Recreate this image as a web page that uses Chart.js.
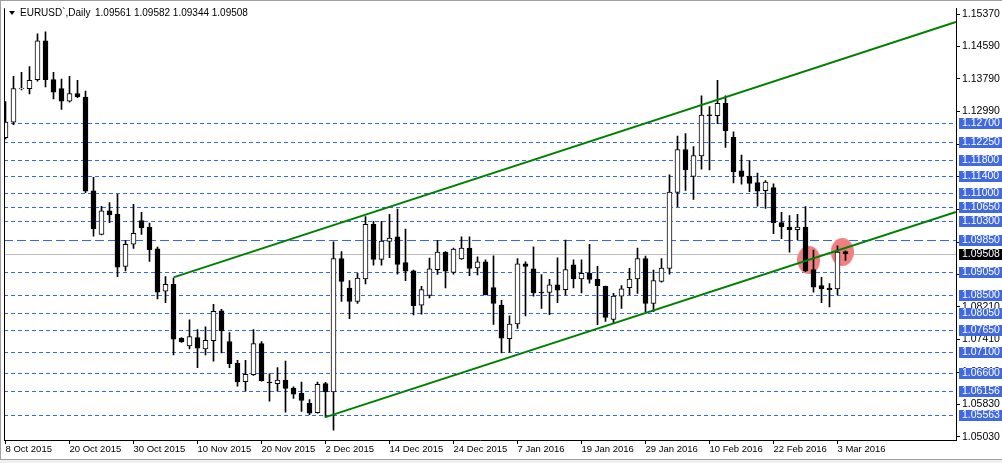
<!DOCTYPE html>
<html>
<head>
<meta charset="utf-8">
<script src="https://cdn.jsdelivr.net/npm/chart.js@4"></script>
<style>
  html, body { margin: 0; padding: 0; background: #fff; }
  #wrap { width: 1002px; height: 463px; position: relative; }
  canvas { display: block; }
</style>
</head>
<body>
<div id="wrap"><canvas id="chart" width="1002" height="463"></canvas></div>
<script>
const symbolTitle = "EURUSD`,Daily";
const lastQuote = ["1.09561", "1.09582", "1.09344", "1.09508"];

// daily bars, 8 Oct 2015 .. 4 Mar 2016
const opens = [
  1.1235, 1.1273, 1.1355, 1.1355, 1.1377, 1.1472, 1.1377, 1.1355, 1.1324, 1.1343,
  1.1334, 1.1105, 1.0998, 1.1056, 1.1047, 1.0920, 1.0974, 1.1032, 1.1016, 1.0963,
  1.0859, 1.0876, 1.0744, 1.0725, 1.0746, 1.0718, 1.0738, 1.0811, 1.0736, 1.0683,
  1.0638, 1.0655, 1.0731, 1.0637, 1.0633, 1.0642, 1.0622, 1.0609, 1.0585, 1.0562,
  1.0633, 1.0613, 1.0939, 1.0867, 1.0834, 1.0889, 1.1023, 1.0937, 1.0981, 1.0992,
  1.0929, 1.0909, 1.0825, 1.0849, 1.0912, 1.0955, 1.0905, 1.0938, 1.0965, 1.0916,
  1.0931, 1.0868, 1.0825, 1.0743, 1.0779, 1.0926, 1.0914, 1.0857, 1.0856, 1.0875,
  1.0863, 1.0924, 1.0889, 1.0903, 1.0888, 1.0871, 1.0790, 1.0847, 1.0868, 1.0889,
  1.0939, 1.0829, 1.0883, 1.0915, 1.1101, 1.1206, 1.1140, 1.1190, 1.1291, 1.1289,
  1.1319, 1.1236, 1.1154, 1.1141, 1.1125, 1.1105, 1.1113, 1.1027, 1.1016, 1.1010,
  1.1016, 1.0912, 1.0873, 1.0867, 1.0865, 1.09561
];
const highs = [
  1.1323, 1.1385, 1.1395, 1.1409, 1.1489, 1.1494, 1.1395, 1.1378, 1.1385, 1.1375,
  1.1349, 1.1138, 1.1067, 1.1076, 1.1096, 1.0983, 1.1072, 1.1052, 1.1026, 1.0967,
  1.0895, 1.0891, 1.0746, 1.0789, 1.0765, 1.0772, 1.0827, 1.0815, 1.0758, 1.0690,
  1.0690, 1.0765, 1.0736, 1.0657, 1.0672, 1.0688, 1.0625, 1.0637, 1.0594, 1.0637,
  1.0636, 1.0980, 1.0956, 1.0885, 1.0903, 1.1042, 1.1030, 1.1030, 1.1047, 1.1060,
  1.1011, 1.0911, 1.0871, 1.0940, 1.0983, 1.0956, 1.0965, 1.0992, 1.0992, 1.0943,
  1.0936, 1.0946, 1.0837, 1.0799, 1.0939, 1.0931, 1.0968, 1.0900, 1.0888, 1.0941,
  1.0984, 1.0936, 1.0936, 1.0974, 1.0920, 1.0872, 1.0854, 1.0873, 1.0915, 1.0965,
  1.0945, 1.0911, 1.0939, 1.1144, 1.1239, 1.1245, 1.1213, 1.1337, 1.1311, 1.1375,
  1.1337, 1.1249, 1.1192, 1.1178, 1.1148, 1.1130, 1.1122, 1.1052, 1.1044, 1.1047,
  1.1066, 1.0960, 1.0893, 1.0878, 1.0970, 1.09582
];
const lows = [
  1.1232, 1.1267, 1.1352, 1.1342, 1.1373, 1.1359, 1.1330, 1.1304, 1.1322, 1.1333,
  1.1100, 1.0994, 1.0997, 1.1027, 1.0895, 1.0909, 1.0964, 1.0998, 1.0932, 1.0840,
  1.0831, 1.0703, 1.0734, 1.0718, 1.0672, 1.0703, 1.0688, 1.0708, 1.0672, 1.0627,
  1.0615, 1.0653, 1.0639, 1.0590, 1.0615, 1.0563, 1.0597, 1.0565, 1.0557, 1.0561,
  1.0551, 1.0519, 1.0834, 1.0792, 1.0829, 1.0877, 1.0923, 1.0923, 1.0941, 1.0901,
  1.0885, 1.0801, 1.0803, 1.0843, 1.0900, 1.0867, 1.0901, 1.0937, 1.0897, 1.0899,
  1.0850, 1.0778, 1.0708, 1.0710, 1.0768, 1.0799, 1.0847, 1.0817, 1.0802, 1.0831,
  1.0850, 1.0867, 1.0855, 1.0879, 1.0777, 1.0785, 1.0782, 1.0817, 1.0851, 1.0854,
  1.0809, 1.0809, 1.0881, 1.0901, 1.1066, 1.1106, 1.1084, 1.1158, 1.1156, 1.1269,
  1.1211, 1.1124, 1.1121, 1.1103, 1.1067, 1.1062, 1.1000, 1.0988, 1.0955, 1.0985,
  1.0907, 1.0857, 1.0831, 1.0821, 1.0850, 1.09344
];
const closes = [
  1.1273, 1.1355, 1.1356, 1.1375, 1.1472, 1.1377, 1.1346, 1.1324, 1.1343, 1.1335,
  1.1104, 1.1012, 1.1056, 1.1046, 1.0918, 1.0974, 1.1001, 1.1014, 1.0961, 1.0857,
  1.0876, 1.0742, 1.0735, 1.0748, 1.0720, 1.0739, 1.0810, 1.0762, 1.0682, 1.0637,
  1.0656, 1.0731, 1.0640, 1.0635, 1.0642, 1.0621, 1.0607, 1.0592, 1.0561, 1.0631,
  1.0613, 1.0939, 1.0883, 1.0834, 1.0891, 1.1023, 1.0937, 1.0982, 1.0989, 1.0925,
  1.0908, 1.0824, 1.0863, 1.0914, 1.0955, 1.0908, 1.0962, 1.0965, 1.0915, 1.0931,
  1.0851, 1.0829, 1.0744, 1.0779, 1.0926, 1.0920, 1.0855, 1.0855, 1.0875, 1.0862,
  1.0912, 1.0889, 1.0903, 1.0888, 1.0873, 1.0795, 1.0847, 1.0865, 1.0889, 1.0939,
  1.0829, 1.0885, 1.0916, 1.1102, 1.1206, 1.1156, 1.1191, 1.1290, 1.1289, 1.1319,
  1.1252, 1.1151, 1.1140, 1.1123, 1.1104, 1.1126, 1.1027, 1.1017, 1.1010, 1.1016,
  1.0909, 1.0869, 1.0865, 1.0863, 1.0955, 1.09508
];

// date labels, one every 8 bars
const dateLabels = [
  "8 Oct 2015", "20 Oct 2015", "30 Oct 2015", "10 Nov 2015", "20 Nov 2015",
  "2 Dec 2015", "14 Dec 2015", "24 Dec 2015", "7 Jan 2016", "19 Jan 2016",
  "29 Jan 2016", "10 Feb 2016", "22 Feb 2016", "3 Mar 2016"
];
const dateStep = 8;

const priceTicks = [
  1.15370, 1.14590, 1.13790, 1.12990, 1.12190, 1.11390, 1.10590,
  1.09790, 1.09010, 1.08210, 1.07410, 1.06610, 1.05830, 1.05030
];
const levels = [
  1.12700, 1.12250, 1.11800, 1.11400, 1.11000, 1.10650, 1.10300,
  1.09050, 1.08500, 1.08050, 1.07650, 1.07100, 1.06600, 1.06156, 1.05563
];
const dashDotLevel = 1.09850;
const bidPrice = 1.09508;

// channel lines: [bar index, price]
const upperChannel = [[21, 1.0893], [118.8, 1.1518]];
const lowerChannel = [[40, 1.0551], [118.8, 1.1053]];
// highlighted touches
const touchMarks = [[100.4, 1.0936], [104.6, 1.0955]];

const FONT = "'Liberation Sans', Arial, sans-serif";
Chart.defaults.font.family = FONT;
Chart.defaults.font.size = 10;
Chart.defaults.color = "#000";

const idx = opens.map((_, i) => i);
const bodyData = idx.map(i => ({ x: i, y: [opens[i], closes[i]] }));
const wickData = idx.map(i => ({ x: i, y: [lows[i], highs[i]] }));
const bodyFill = idx.map(i => (closes[i] < opens[i] ? "#000" : "#fff"));

function ellipseMark(w, h, color) {
  const c = document.createElement("canvas");
  c.width = w; c.height = h;
  const g = c.getContext("2d");
  g.fillStyle = color;
  g.beginPath();
  g.ellipse(w / 2, h / 2, w / 2, h / 2, 0, 0, Math.PI * 2);
  g.fill();
  return c;
}

const mt4Overlay = {
  id: "mt4Overlay",
  beforeDatasetsDraw(chart) {
    const { ctx, chartArea: a, scales: { y } } = chart;
    ctx.save();
    ctx.beginPath();
    ctx.rect(a.left, a.top, a.right - a.left, a.bottom - a.top);
    ctx.clip();
    ctx.lineWidth = 1;
    const hline = (v, color, dash) => {
      const py = Math.round(y.getPixelForValue(v)) + 0.5;
      ctx.strokeStyle = color;
      ctx.setLineDash(dash);
      ctx.beginPath();
      ctx.moveTo(a.left, py);
      ctx.lineTo(a.right, py);
      ctx.stroke();
    };
    levels.forEach(v => hline(v, "#3366FF", [4, 3]));
    hline(dashDotLevel, "#3366FF", [9, 4]);
    hline(bidPrice, "#C0C0C0", []);
    ctx.restore();
  },
  afterDraw(chart) {
    const { ctx, chartArea: a, scales: { y } } = chart;
    ctx.save();
    // window frame
    ctx.fillStyle = "#F0F0F0";
    ctx.fillRect(0, 460, chart.width, chart.height - 460);
    ctx.strokeStyle = "#A0A0A0";
    ctx.lineWidth = 1;
    ctx.beginPath();
    ctx.moveTo(0.5, 0); ctx.lineTo(0.5, 460);
    ctx.moveTo(0, 0.5); ctx.lineTo(chart.width, 0.5);
    ctx.moveTo(0, 459.5); ctx.lineTo(chart.width, 459.5);
    ctx.stroke();

    // left frame of the plot
    ctx.strokeStyle = "#000";
    ctx.beginPath();
    ctx.moveTo(a.left + 0.5, a.top);
    ctx.lineTo(a.left + 0.5, a.bottom);
    ctx.stroke();

    // price labels of the lines
    ctx.font = "10.5px " + FONT;
    ctx.textBaseline = "middle";
    ctx.textAlign = "left";
    const tag = (v, bg) => {
      const py = Math.round(y.getPixelForValue(v));
      ctx.fillStyle = bg;
      ctx.fillRect(a.right + 3, py - 5, 43, 11);
      ctx.fillStyle = "#fff";
      ctx.fillText(v.toFixed(5), a.right + 6, py + 0.5);
    };
    levels.forEach(v => tag(v, "#4169E1"));
    tag(dashDotLevel, "#4169E1");
    tag(bidPrice, "#000");

    // title
    ctx.font = "10px " + FONT;
    ctx.fillStyle = "#000";
    ctx.beginPath();
    ctx.moveTo(9, 11); ctx.lineTo(15, 11); ctx.lineTo(12, 15); ctx.closePath();
    ctx.fill();
    ctx.fillText(symbolTitle, 20, 13.5);
    ctx.fillText(lastQuote.join(" "), 95, 13.5);
    ctx.restore();
  }
};

const yTop = 2, yBottom = 440, pxPerUnit = 1 / 0.00024119, refPrice = 1.15563;
const yMax = refPrice - yTop / pxPerUnit;
const yMin = refPrice - yBottom / pxPerUnit;
const xMin = (4 - 5.5) / 8, xMax = (956 - 5.5) / 8;

new Chart(document.getElementById("chart"), {
  type: "bar",
  data: {
    datasets: [
      {
        type: "line",
        data: upperChannel.map(([x, v]) => ({ x, y: v })),
        borderColor: "#008000",
        borderWidth: 2,
        pointRadius: 0,
        order: 0
      },
      {
        type: "line",
        data: lowerChannel.map(([x, v]) => ({ x, y: v })),
        borderColor: "#008000",
        borderWidth: 2,
        pointRadius: 0,
        order: 0
      },
      {
        data: bodyData,
        backgroundColor: bodyFill,
        borderColor: "#000",
        borderWidth: 1,
        borderSkipped: false,
        barThickness: 5,
        grouped: false,
        order: 1
      },
      {
        data: wickData,
        backgroundColor: "#000",
        barThickness: 1,
        grouped: false,
        order: 2
      },
      {
        type: "line",
        data: touchMarks.map(([x, v]) => ({ x, y: v })),
        showLine: false,
        pointStyle: ellipseMark(23, 28, "#F08080"),
        pointRadius: 12,
        order: 3
      }
    ]
  },
  options: {
    responsive: false,
    animation: false,
    events: [],
    layout: { autoPadding: false, padding: { left: 4, top: yTop, right: 0, bottom: 0 } },
    plugins: { legend: { display: false }, tooltip: { enabled: false } },
    scales: {
      x: {
        type: "linear",
        min: xMin,
        max: xMax,
        offset: false,
        afterBuildTicks: s => { s.ticks = dateLabels.map((_, k) => ({ value: k * dateStep })); },
        afterFit: s => { s.height = 463 - yBottom; },
        ticks: {
          autoSkip: false,
          maxRotation: 0,
          align: "start",
          padding: 0,
          font: { size: 9.5 },
          callback: v => dateLabels[v / dateStep]
        },
        grid: { drawOnChartArea: false, drawTicks: true, tickLength: 4, color: "#000", offset: false },
        border: { display: true, color: "#000" }
      },
      y: {
        position: "right",
        min: yMin,
        max: yMax,
        afterBuildTicks: s => { s.ticks = priceTicks.map(v => ({ value: v })); },
        afterFit: s => { s.width = 46; },
        ticks: { padding: 2, font: { size: 10.5 }, callback: v => v.toFixed(5) },
        grid: { drawOnChartArea: false, drawTicks: true, tickLength: 4, color: "#000" },
        border: { display: true, color: "#000" }
      }
    }
  },
  plugins: [mt4Overlay]
});
</script>
</body>
</html>
